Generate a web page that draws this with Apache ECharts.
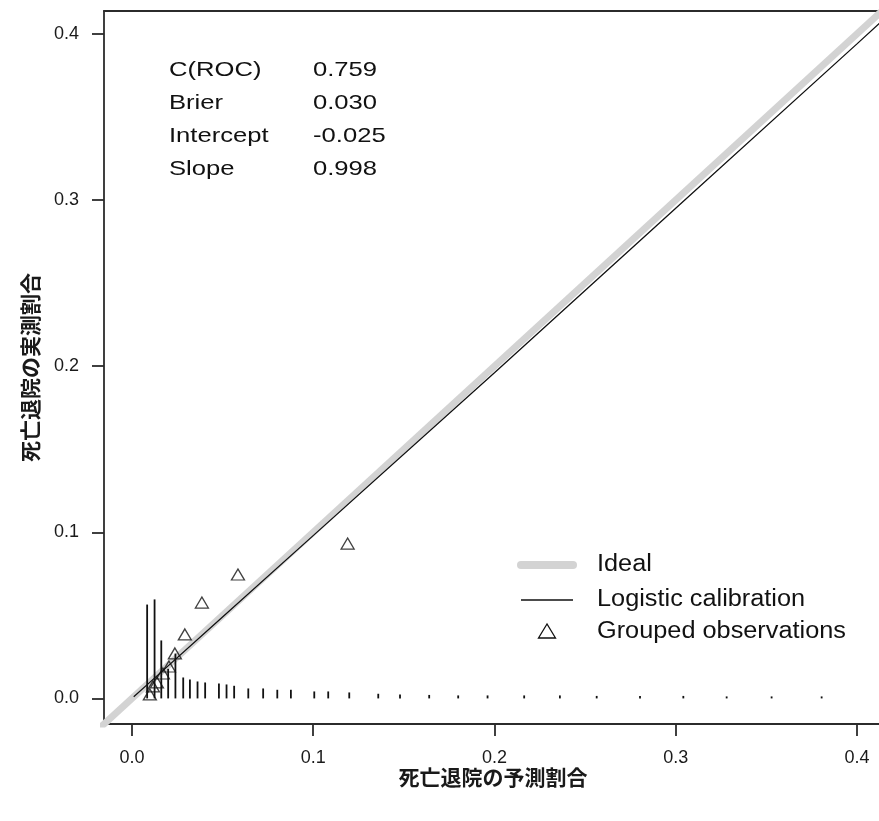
<!DOCTYPE html>
<html>
<head>
<meta charset="utf-8">
<script src="https://cdn.jsdelivr.net/npm/echarts@6/dist/echarts.min.js"></script>
<style>
  html, body { margin: 0; padding: 0; background: #ffffff; overflow: hidden; }
  #chart { width: 896px; height: 821px; }
</style>
</head>
<body>
<div id="chart"></div>
<script>
// Axis ticks (both axes share the same scale)
const tickValues = [0, 0.1, 0.2, 0.3, 0.4];
const axisMin = -0.0154;
const axisMax = 0.4138;

// Ideal calibration: observed = predicted
const idealX = [-0.03, 0.45];
const idealY = [-0.03, 0.45];

// Logistic calibration curve (predicted -> observed)
const calibX = [0.001, 0.01, 0.05, 0.1, 0.2, 0.3, 0.4, 0.45];
const calibY = [0.001, 0.0098, 0.049, 0.098, 0.196, 0.295, 0.394, 0.444];

// Grouped observations (mean predicted vs observed proportion)
const groupPred = [0.0099, 0.0116, 0.0138, 0.0171, 0.0204, 0.0237, 0.0292, 0.0386, 0.0585, 0.119];
const groupObs  = [0.0024, 0.0072, 0.0096, 0.0150, 0.0192, 0.0271, 0.0385, 0.0577, 0.0746, 0.0932];

// Spike histogram of predicted probabilities (position, relative height)
const spikeX = [0.0084, 0.0125, 0.0162, 0.0200, 0.0240, 0.0283, 0.0320, 0.0362, 0.0404, 0.0480,
                0.0522, 0.0564, 0.0642, 0.0724, 0.0802, 0.0877, 0.1006, 0.1083, 0.1199, 0.1359,
                0.1479, 0.1640, 0.1800, 0.1962, 0.2164, 0.2361, 0.2564, 0.2803, 0.3042, 0.3281,
                0.3529, 0.3805];
const spikeH = [0.0565, 0.0596, 0.0349, 0.0178, 0.0270, 0.0126, 0.0114, 0.0102, 0.0096, 0.0090,
                0.0084, 0.0076, 0.0060, 0.0060, 0.0052, 0.0052, 0.0042, 0.0042, 0.0036, 0.0028,
                0.0024, 0.0021, 0.0018, 0.0018, 0.0018, 0.0018, 0.0015, 0.0015, 0.0015, 0.0012,
                0.0012, 0.0012];

// Summary statistics
const statNames  = ['C(ROC)', 'Brier', 'Intercept', 'Slope'];
const statValues = ['0.759', '0.030', '-0.025', '0.998'];

// Legend entries
const legendNames = ['Ideal', 'Logistic calibration', 'Grouped observations'];

const xTitle = '死亡退院の予測割合';
const yTitle = '死亡退院の実測割合';

const zip = (a, b) => a.map((v, i) => [v, b[i]]);

const latin = '"Liberation Sans", Arial, Helvetica, sans-serif';
const cjk = '"Noto Sans CJK JP", "Noto Sans CJK SC", sans-serif';
const ink = '#1a1a1a';
const axisInk = '#2b2b2b';

function valueAxis(name, gap, rotate) {
  return {
    type: 'value',
    min: axisMin,
    max: axisMax,
    name: name,
    nameLocation: 'middle',
    nameGap: gap,
    nameRotate: rotate,
    nameMoveOverlap: false,
    nameTextStyle: { fontFamily: cjk, fontSize: 21, fontWeight: 'bold', color: ink },
    axisLine: { show: true, onZero: false, lineStyle: { color: axisInk, width: 1.8 } },
    axisTick: { show: true, customValues: tickValues, length: 12, inside: false,
                lineStyle: { color: axisInk, width: 1.8 } },
    axisLabel: { customValues: tickValues, formatter: v => v.toFixed(1),
                 fontFamily: latin, fontSize: 18, color: ink, margin: 25 },
    splitLine: { show: false }
  };
}

// Top frame line of the plotting region (no ticks or labels)
const frameTop = {
  type: 'value', position: 'top', min: axisMin, max: axisMax,
  axisLine: { show: true, onZero: false, lineStyle: { color: axisInk, width: 1.8 } },
  axisTick: { show: false }, axisLabel: { show: false }, splitLine: { show: false }
};

const chart = echarts.init(document.getElementById('chart'), null, { renderer: 'canvas' });

const statGraphics = [];
statNames.forEach((s, i) => {
  const y = 70 + i * 33;
  statGraphics.push({
    type: 'text', x: 169, y: y, scaleX: 1.22,
    style: { text: s, x: 0, y: 0, fontFamily: latin, fontSize: 21, fill: '#111',
             align: 'left', verticalAlign: 'middle', textAlign: 'left', textVerticalAlign: 'middle' }
  });
  statGraphics.push({
    type: 'text', x: 313, y: y, scaleX: 1.22,
    style: { text: statValues[i], x: 0, y: 0, fontFamily: latin, fontSize: 21, fill: '#111',
             align: 'left', verticalAlign: 'middle', textAlign: 'left', textVerticalAlign: 'middle' }
  });
});

const legendRows = [565, 600, 632];
const legendGraphics = [
  { type: 'line', shape: { x1: 521, y1: legendRows[0], x2: 573, y2: legendRows[0] },
    style: { stroke: '#d3d3d3', lineWidth: 8, lineCap: 'round' } },
  { type: 'line', shape: { x1: 521, y1: legendRows[1], x2: 573, y2: legendRows[1] },
    style: { stroke: '#111', lineWidth: 1.4 } },
  { type: 'polygon', shape: { points: [[547, legendRows[2] - 8], [538.5, legendRows[2] + 6], [555.5, legendRows[2] + 6]] },
    style: { fill: 'none', stroke: '#111', lineWidth: 1.3 } }
];
legendNames.forEach((s, i) => {
  legendGraphics.push({
    type: 'text', x: 597, y: legendRows[i], scaleX: 1.1,
    style: { text: s, x: 0, y: 0, fontFamily: latin, fontSize: 23, fill: '#111',
             align: 'left', verticalAlign: 'middle', textAlign: 'left', textVerticalAlign: 'middle' }
  });
});

chart.setOption({
  animation: false,
  backgroundColor: '#ffffff',
  grid: { left: 104, top: 11, width: 778, height: 713, show: false,
          outerBoundsMode: 'none', containLabel: false },
  xAxis: [valueAxis(xTitle, 43, 0), frameTop],
  yAxis: valueAxis(yTitle, 63, 90),
  series: [
    {
      name: 'Ideal', type: 'line', data: zip(idealX, idealY), symbol: 'none', clip: true,
      lineStyle: { color: '#d3d3d3', width: 7 }, z: 1, silent: true
    },
    {
      name: 'Logistic calibration', type: 'line', data: zip(calibX, calibY), symbol: 'none',
      clip: true, lineStyle: { color: '#111111', width: 1.3 }, z: 3, silent: true
    },
    {
      name: 'Grouped observations', type: 'scatter', data: zip(groupPred, groupObs),
      symbol: 'triangle', symbolSize: [13, 11],
      itemStyle: { color: 'rgba(0,0,0,0)', borderColor: '#111', borderWidth: 1.3 }, z: 4, silent: true
    },
    {
      name: 'spikes', type: 'custom', data: zip(spikeX, spikeH), z: 2, silent: true,
      encode: { x: 0, y: 1 },
      renderItem: function (params, api) {
        const p0 = api.coord([api.value(0), 0]);
        const p1 = api.coord([api.value(0), api.value(1)]);
        return { type: 'line', shape: { x1: p0[0], y1: p0[1], x2: p1[0], y2: p1[1] },
                 style: { stroke: '#111', lineWidth: 1.8 } };
      }
    }
  ],
  graphic: statGraphics.concat(legendGraphics)
});
</script>
</body>
</html>
